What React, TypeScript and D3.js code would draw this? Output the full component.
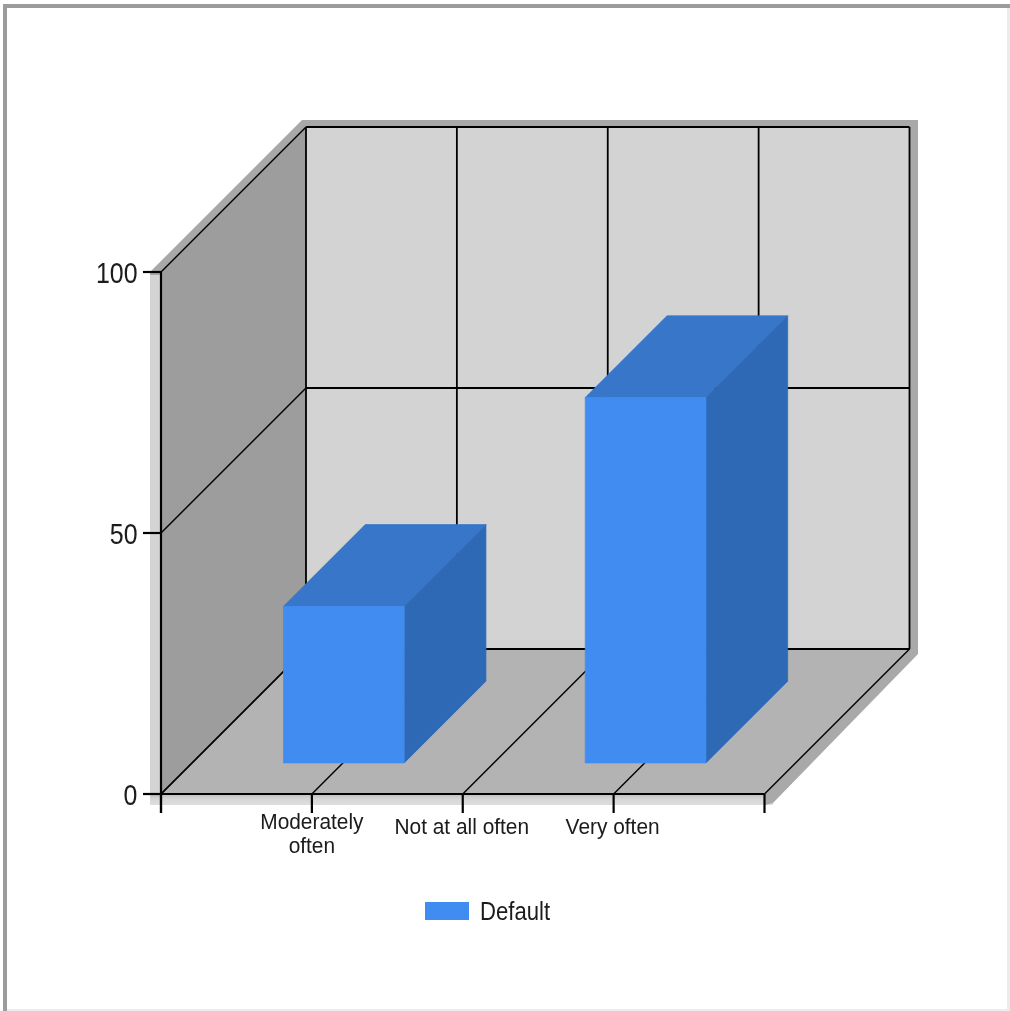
import React from "react";
import * as d3 from "d3";

const categories = ["Moderately often", "Not at all often", "Very often"];
const categoryLines = [["Moderately", "often"], ["Not at all often"], ["Very often"]];
const seriesValues = [30, 0, 70];
const yTicks = [0, 50, 100];
const xGridSlots = [0, 1, 2, 3, 4];
const legendLabel = "Default";

const x = d3.scaleLinear().domain([0, 4]).range([161, 764.5]);
const y = d3.scaleLinear().domain([0, 100]).range([794, 272]);
const z = d3.scaleLinear().domain([0, 1]).range([0, 145]);

// project (xv, yv, zv) to screen
const px = (xv: number, zv: number) => x(xv) + z(zv);
const py = (yv: number, zv: number) => y(yv) - z(zv);
const pt = (xv: number, yv: number, zv: number): [number, number] => [px(xv, zv), py(yv, zv)];
const poly = (pts: [number, number][]) => (d3.line()(pts) ?? "") + "Z";
const seg = (pts: [number, number][]) => d3.line()(pts) ?? "";

const barHalf = 0.4;
const barShift = 0.006;
const barZ0 = 0.214;
const barZ1 = 0.778;
const FONT = "'Liberation Sans', Arial, sans-serif";
const TEXT = "#1a1a1a";

export default function App() {
  return (
    <svg
      width={1010}
      height={1011}
      style={{ position: "absolute", left: 0, top: 0, display: "block", background: "#fff" }}
      fontFamily={FONT}
    >
      <defs>
        <filter id="soft" x="-5%" y="-5%" width="110%" height="110%">
          <feGaussianBlur stdDeviation="0.6" />
        </filter>
        <linearGradient id="floorShadow" x1="0" x2="0" y1="0" y2="1">
          <stop offset="0" stopColor="#bdbdbd" />
          <stop offset="0.45" stopColor="#d6d6d6" />
          <stop offset="1" stopColor="#dedede" />
        </linearGradient>
      </defs>
      <g filter="url(#soft)">
        {/* image frame */}
        <rect x={3} y={4} width={1007} height={4} fill="#9c9c9c" />
        <rect x={3} y={4} width={4} height={1007} fill="#9c9c9c" />
        <rect x={1007} y={8} width={3} height={1003} fill="#ececec" />
        <rect x={7} y={1009} width={1003} height={2} fill="#ececec" />

        {/* drop shadows */}
        <rect x={150} y={272} width={12} height={533} fill="#d4d4d4" />
        <rect x={150} y={794} width={623} height={11} fill="url(#floorShadow)" />
        <path d={poly([[150, 272], [302, 120], [918, 120], [918, 130], [306, 130], [161, 275], [150, 275]])} fill="#a8a8a8" />
        <path d={poly([[905, 122], [918, 122], [918, 654], [773, 803], [765, 805], [765, 790], [905, 649]])} fill="#a9a9a9" />

        {/* walls */}
        <path d={poly([pt(0, 0, 1), pt(4, 0, 1), pt(4, 100, 1), pt(0, 100, 1)])} fill="#d3d3d3" />
        <path d={poly([pt(0, 0, 0), pt(0, 0, 1), pt(0, 100, 1), pt(0, 100, 0)])} fill="#9d9d9d" />
        <path d={poly([pt(0, 0, 0), pt(4, 0, 0), pt(4, 0, 1), pt(0, 0, 1)])} fill="#b3b3b3" />

        {/* grid lines */}
        <g stroke="#000" fill="none">
          {/* receding lines on floor and left wall */}
          <g strokeWidth={1.4}>
            {xGridSlots.map((s) => (
              <path key={s} d={seg([pt(s, 0, 0), pt(s, 0, 1)])} />
            ))}
            {yTicks.map((t) => (
              <path key={t} d={seg([pt(0, t, 0), pt(0, t, 1)])} />
            ))}
          </g>
          {/* back wall lines */}
          <g strokeWidth={1.8}>
            {xGridSlots.map((s) => (
              <path key={s} d={seg([pt(s, 0, 1), pt(s, 100, 1)])} />
            ))}
            {yTicks.map((t) => (
              <path key={t} d={seg([pt(0, t, 1), pt(4, t, 1)])} />
            ))}
          </g>
          {/* axes */}
          <g strokeWidth={2.2}>
            <line x1={x(0)} x2={x(0)} y1={y(100)} y2={y(0) + 19} />
            <line x1={x(0) - 18} x2={x(4)} y1={y(0)} y2={y(0)} />
            {xGridSlots.map((s) => (
              <line key={s} x1={x(s)} x2={x(s)} y1={y(0)} y2={y(0) + 19} />
            ))}
            {yTicks.map((t) => (
              <line key={t} x1={x(0) - 18} x2={x(0)} y1={y(t)} y2={y(t)} />
            ))}
          </g>
        </g>

        {/* bars */}
        {seriesValues.map((v, i) => {
          if (v === 0) return null;
          const c = i + 1 + barShift;
          const l = c - barHalf;
          const r = c + barHalf;
          return (
            <g key={categories[i]} strokeWidth={0.7} strokeLinejoin="round">
              <path d={poly([pt(l, v, barZ0), pt(r, v, barZ0), pt(r, v, barZ1), pt(l, v, barZ1)])} fill="#3776ca" stroke="#3776ca" />
              <path d={poly([pt(r, 0, barZ0), pt(r, 0, barZ1), pt(r, v, barZ1), pt(r, v, barZ0)])} fill="#2f69b5" stroke="#2f69b5" />
              <path d={poly([pt(l, 0, barZ0), pt(r, 0, barZ0), pt(r, v, barZ0), pt(l, v, barZ0)])} fill="#418cf0" stroke="#418cf0" />
            </g>
          );
        })}

        {/* y tick labels */}
        {yTicks.map((t) => (
          <text
            key={t}
            transform={`translate(137.5,${y(t) + 10.5}) scale(0.86,1)`}
            textAnchor="end"
            fontSize={29}
            fill={TEXT}
          >
            {t}
          </text>
        ))}

        {/* x tick labels */}
        {categoryLines.map((lines, i) => (
          <g key={i}>
            {lines.map((ln, j) => (
              <text
                key={j}
                transform={`translate(${x(i + 1) - (i === 0 ? 0 : 1)},${(lines.length > 1 ? 829 : 834) + j * 24}) scale(0.95,1)`}
                textAnchor="middle"
                fontSize={22}
                fill={TEXT}
              >
                {ln}
              </text>
            ))}
          </g>
        ))}

        {/* legend */}
        <rect x={425} y={902} width={44} height={18} fill="#418cf0" />
        <text transform="translate(480,920) scale(0.885,1)" fontSize={25} fill={TEXT}>
          {legendLabel}
        </text>
      </g>
    </svg>
  );
}
